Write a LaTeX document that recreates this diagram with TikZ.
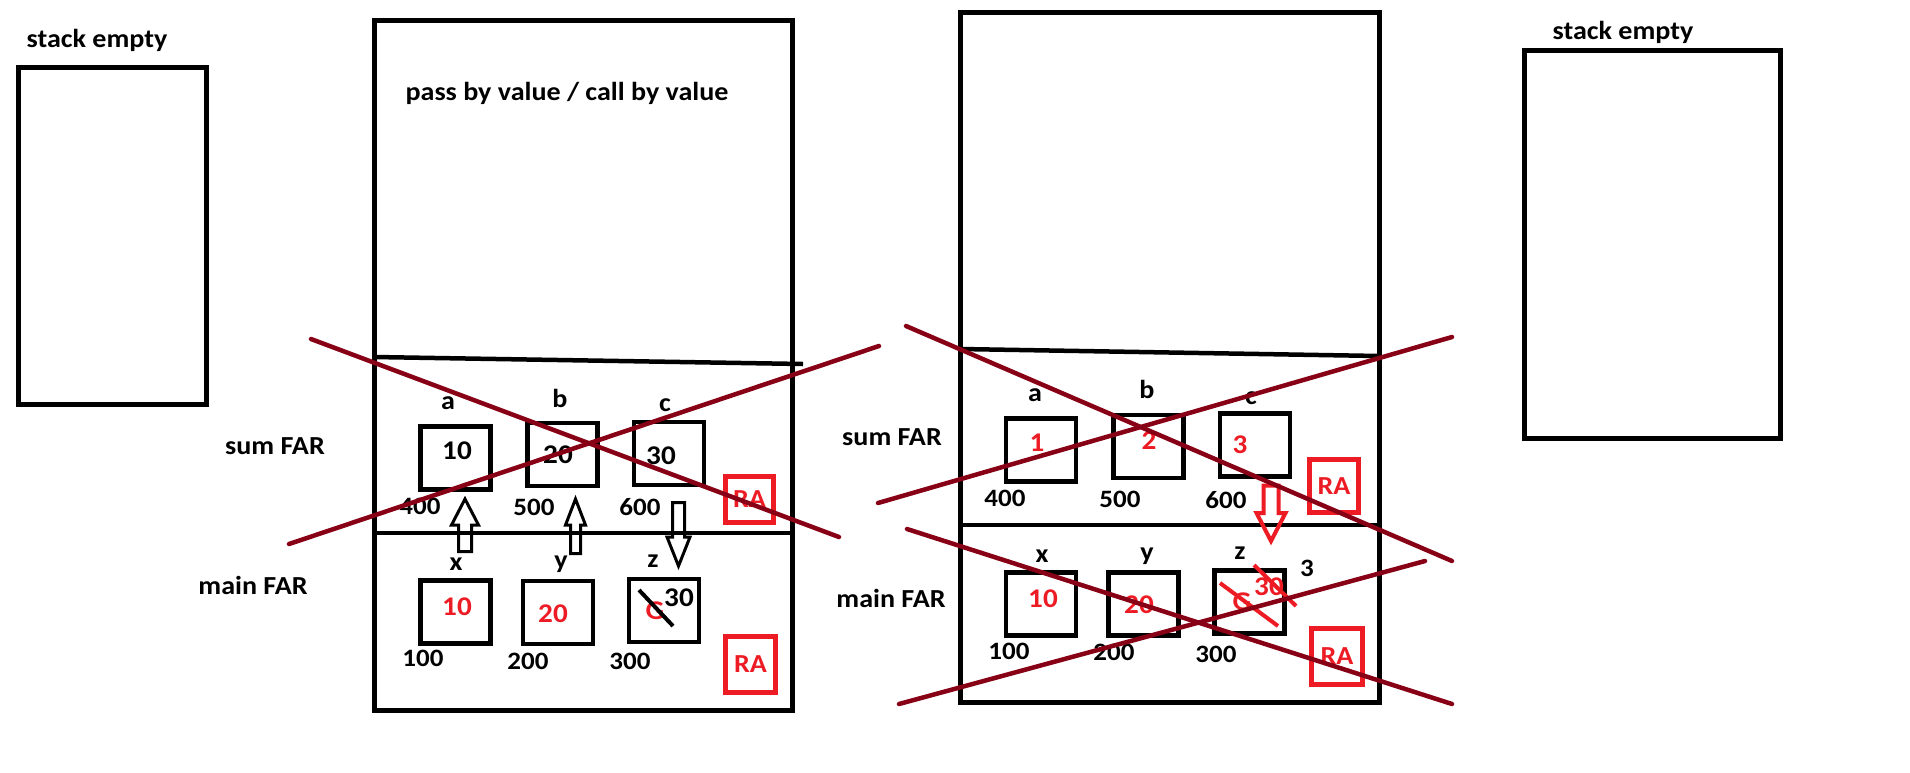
\documentclass[tikz,border=0pt]{standalone}
\usepackage{fontspec}
\setmainfont{Carlito}[FakeStretch=1.08]
\definecolor{CrossRed}{RGB}{136,0,21}
\definecolor{PaintRed}{RGB}{237,28,36}
\usetikzlibrary{positioning}
\tikzset{>=latex}
\tikzset{lbl/.style={font=\bfseries\fontsize{26}{30}\selectfont,inner sep=0pt}}
\tikzset{num/.style={font=\bfseries\fontsize{25}{30}\selectfont,inner sep=0pt}}
\tikzset{val/.style={font=\bfseries\fontsize{27}{32}\selectfont,inner sep=0pt}}
\tikzset{cell/.style={draw,line width=4.5pt,minimum width=70pt,minimum height=63pt,inner sep=0pt}}
\tikzset{rabox/.style={draw=PaintRed,text=PaintRed,line width=5pt,inner sep=0pt,font=\bfseries\fontsize{26}{30}\selectfont}}
\tikzset{frame/.style={line width=5pt}}
\tikzset{divider/.style={line width=4.5pt}}
\tikzset{cross/.style={CrossRed,line width=4.5pt,line cap=round}}
\tikzset{hollow/.style={line width=3pt,line join=miter}}

\begin{document}
\begin{tikzpicture}[x=1pt,y=-1pt]
\useasboundingbox[fill=white] (0,0) rectangle (1910,772);

% empty stack, left
\node[lbl] (stackL) at (97,40) {stack empty};
\draw[frame] (18.5,67.5) rectangle (206.5,404.5);

% stack during the call
\draw[frame] (374.5,20.5) rectangle (792.5,710);
\node[lbl] (title) at (567,93) {pass by value / call by value};
\draw[divider] (374,357) -- (803,364);
\draw[divider] (374,533) -- (790,533);
\node[lbl] (sumL) at (275,446) {sum FAR};
\node[lbl] (mainL) at (253,585) {main FAR};

\node[cell] (a) at (455.5,458) {};
\node[cell] (b) at (562.5,454.5) {};
\node[cell] (c) at (669,453.5) {};
\node[lbl] at (448,403) {a};
\node[lbl] at (560,398) {b};
\node[lbl] at (665,405) {c};
\node[val] at (457,451) {10};
\node[val] at (558,455) {20};
\node[val] at (661,456) {30};
\node[num] at (420,506) {400};
\node[num] at (534,507) {500};
\node[num] at (640,507) {600};
\node[rabox,minimum width=48pt,minimum height=46pt] (raS) at (749.5,499.5) {RA};

\node[cell] (x) at (455.5,612) {};
\node[cell] (y) at (558,612.5) {};
\node[cell] (z) at (664,610.5) {};
\node[lbl] at (456,564) {x};
\node[lbl] at (561,564) {y};
\node[lbl] at (653,561) {z};
\node[val,PaintRed] at (457,607) {10};
\node[val,PaintRed] at (553,614) {20};
\node[val,PaintRed] (gL) at (655,611) {G};
\draw[line width=4pt] (639,590) -- (673,626);
\node[val] at (679,598) {30};
\node[num] at (423,658) {100};
\node[num] at (528,661) {200};
\node[num] at (630,661) {300};
\node[rabox,minimum width=50pt,minimum height=56pt] (raM) at (750.5,664.5) {RA};

% copying the values
\coordinate (xa) at (465,551.5);
\draw[hollow] (xa) ++(-6.5,0) -- ++(0,-26.5) -- ++(-7,0) -- ++(13.5,-26) -- ++(13.5,26) -- ++(-7,0) -- ++(0,26.5) -- cycle;
\coordinate (yb) at (575.5,553.5);
\draw[hollow] (yb) ++(-5,0) -- ++(0,-28.5) -- ++(-5,0) -- ++(10,-26) -- ++(10,26) -- ++(-5,0) -- ++(0,28.5) -- cycle;
\coordinate (cz) at (678.5,502.5);
\draw[hollow] (cz) ++(-6,0) -- ++(0,34.5) -- ++(-5.5,0) -- ++(11.5,29) -- ++(11.5,-29) -- ++(-5.5,0) -- ++(0,-34.5) -- cycle;

% stack after the return
\draw[frame] (960.5,12.5) rectangle (1379,702);
\draw[divider] (960,349) -- (1379,356);
\draw[divider] (960,525) -- (1379,525);
\node[lbl] (sumR) at (892,437) {sum FAR};
\node[lbl] (mainR) at (891,598) {main FAR};

\node[cell] (a2) at (1041,450) {};
\node[cell] (b2) at (1148.5,446.5) {};
\node[cell] (c2) at (1255,445) {};
\node[lbl] at (1035,395) {a};
\node[lbl] at (1147,389) {b};
\node[lbl] at (1251,398) {c};
\node[val,PaintRed] at (1037,443) {1};
\node[val,PaintRed] at (1149,441) {2};
\node[val,PaintRed] at (1240,445) {3};
\node[num] at (1005,498) {400};
\node[num] at (1120,499) {500};
\node[num] at (1226,500) {600};
\node[rabox,minimum width=49pt,minimum height=53pt] (raS2) at (1334,486) {RA};

\node[cell] (x2) at (1041,604) {};
\node[cell] (y2) at (1143.5,604) {};
\node[cell] (z2) at (1249.5,602) {};
\node[lbl] at (1042,556) {x};
\node[lbl] at (1147,556) {y};
\node[lbl] at (1240,553) {z};
\node[num] (ret) at (1307,568) {3};
\node[val,PaintRed] at (1043,599) {10};
\node[val,PaintRed] at (1139,605) {20};
\node[val,PaintRed] (gR) at (1242,602) {G};
\node[val,PaintRed] at (1269,587) {30};
\draw[PaintRed,line width=4pt] (1220,583) -- (1278,626);
\draw[PaintRed,line width=4pt] (1254,565) -- (1296,606);
\node[num] at (1009,651) {100};
\node[num] at (1114,652) {200};
\node[num] at (1216,654) {300};
\node[rabox,minimum width=51pt,minimum height=56pt] (raM2) at (1337,656.5) {RA};

\coordinate (c2z2) at (1271,485.5);
\draw[hollow,PaintRed,line width=4pt] (c2z2) ++(-7.5,0) -- ++(0,27.5) -- ++(-7,0) -- ++(14.5,28) -- ++(14.5,-28) -- ++(-7,0) -- ++(0,-27.5) -- cycle;

% empty stack, right
\node[lbl] (stackR) at (1623,32) {stack empty};
\draw[frame] (1524.5,50) rectangle (1780.5,438);

% frames that are gone
\draw[cross] (311,339) -- (839,537);
\draw[cross] (289,544) -- (879,346);
\draw[cross] (906,326) -- (1452,561);
\draw[cross] (878,503) -- (1452,337);
\draw[cross] (907,529) -- (1452,704);
\draw[cross] (899,704) -- (1425,561);
\end{tikzpicture}
\end{document}
